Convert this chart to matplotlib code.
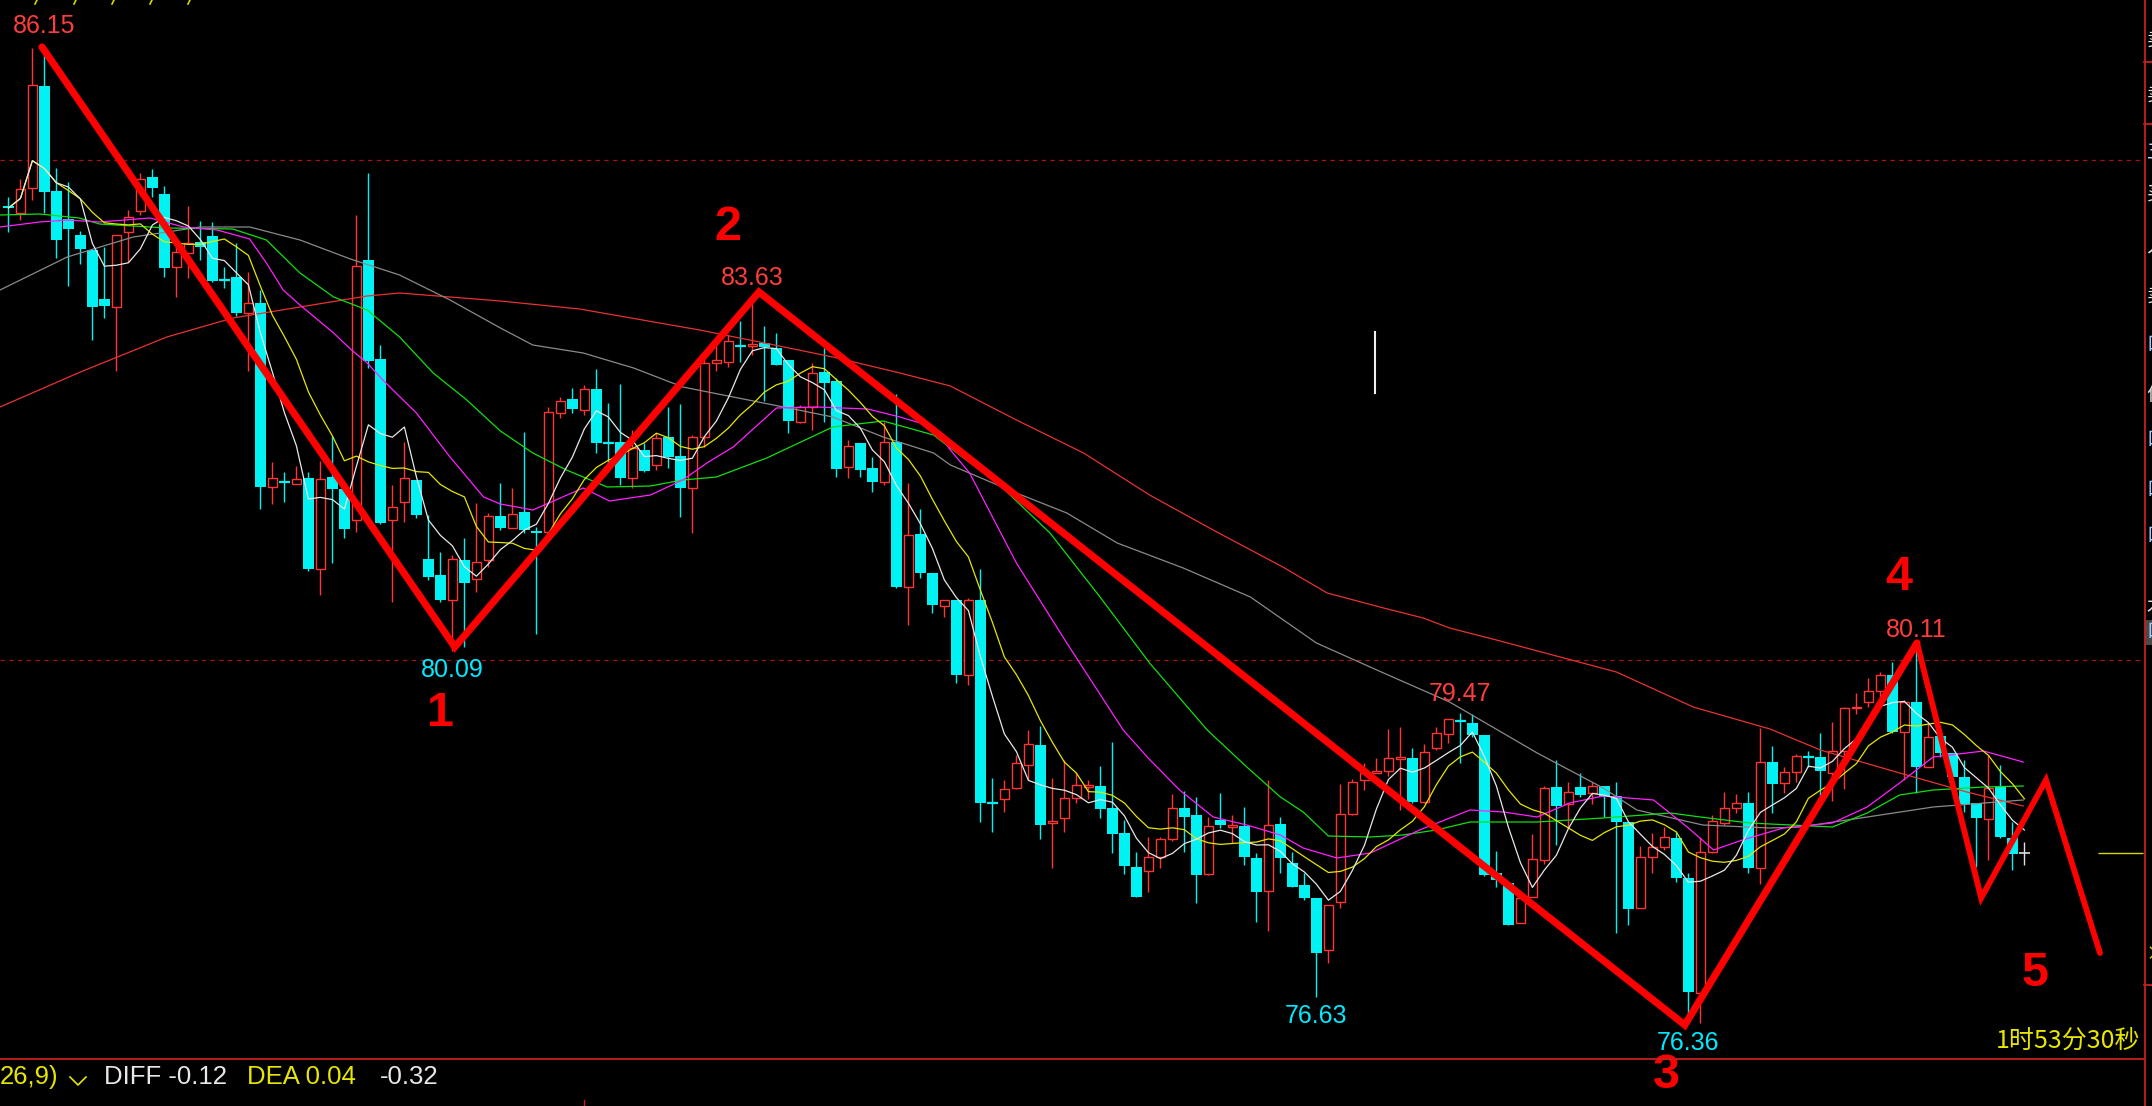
import numpy as np
import pandas as pd
import matplotlib
matplotlib.use("Agg")
import matplotlib.pyplot as plt
from matplotlib.patches import Rectangle
from matplotlib.lines import Line2D

# ---------------- data ----------------
opens = [84.54, 84.47, 84.72, 85.74, 84.69, 84.41, 84.25, 84.10, 83.61, 83.53,
         84.28, 84.49, 84.83, 84.66, 83.93, 84.07, 84.18, 84.24, 83.81, 83.83,
         83.47, 83.57, 81.73, 81.79, 81.76, 81.82, 80.91, 81.83, 81.71, 81.40,
         84.00, 83.01, 81.40, 81.58, 81.80, 81.01, 80.85, 80.60, 81.00, 80.81,
         81.00, 81.44, 81.32, 81.48, 81.29, 81.28, 82.47, 82.61, 82.50, 82.71,
         82.17, 82.18, 81.82, 82.10, 81.95, 82.23, 82.04, 81.72, 82.23, 82.97,
         82.98, 83.16, 83.14, 83.17, 83.12, 83.00, 82.38, 82.53, 82.88, 82.79,
         81.93, 82.17, 81.92, 81.78, 82.18, 80.73, 81.26, 80.87, 80.54, 80.60,
         79.85, 80.60, 78.58, 78.61, 78.72, 78.95, 79.15, 78.37, 78.42, 78.62,
         78.73, 78.74, 78.52, 78.27, 77.93, 77.89, 78.03, 78.21, 78.52, 78.45,
         77.86, 78.40, 78.33, 78.34, 78.02, 77.69, 78.36, 77.97, 77.75, 77.62,
         77.10, 77.58, 78.46, 78.80, 78.87, 78.89, 79.01, 79.02, 78.58, 79.12,
         79.26, 79.40, 79.37, 79.25, 77.87, 77.77, 77.37, 77.63, 78.00, 78.73,
         78.56, 78.73, 78.67, 78.74, 78.64, 78.38, 77.52, 78.03, 78.13, 78.22,
         77.82, 76.67, 78.08, 78.37, 78.52, 78.57, 77.92, 78.98, 78.77, 78.88,
         79.05, 79.03, 78.87, 79.09, 79.52, 79.58, 79.69, 79.85, 79.28, 79.58,
         78.93, 79.24, 79.07, 78.83, 78.57, 78.41, 78.73, 78.22, 78.07]
highs = [84.63, 84.81, 86.12, 86.15, 84.92, 84.78, 84.29, 84.10, 84.13, 84.25,
         84.50, 84.87, 84.91, 84.74, 84.20, 84.54, 84.39, 84.38, 83.93, 84.17,
         83.88, 83.70, 81.98, 81.88, 81.94, 81.88, 81.99, 82.24, 81.71, 84.45,
         84.87, 83.15, 81.75, 82.18, 81.80, 81.45, 81.08, 81.05, 81.22, 81.57,
         81.47, 81.77, 81.72, 82.28, 81.33, 82.53, 82.63, 82.72, 82.75, 82.91,
         82.57, 82.76, 82.30, 82.17, 82.27, 82.53, 82.56, 82.25, 83.03, 83.17,
         83.25, 83.39, 83.63, 83.34, 83.27, 83.00, 82.55, 82.97, 83.12, 82.82,
         82.20, 82.17, 82.03, 82.38, 82.66, 81.77, 81.51, 80.87, 80.60, 80.60,
         80.62, 80.91, 78.82, 78.80, 79.05, 79.30, 79.34, 78.82, 79.00, 78.88,
         78.80, 78.94, 79.18, 78.40, 78.08, 78.23, 78.23, 78.66, 78.69, 78.63,
         78.43, 78.67, 78.45, 78.53, 78.07, 78.80, 78.43, 78.08, 77.87, 77.62,
         77.55, 78.76, 78.81, 78.97, 79.02, 79.31, 79.33, 79.12, 79.16, 79.33,
         79.41, 79.47, 79.46, 79.25, 78.09, 77.77, 77.62, 78.26, 78.74, 79.00,
         78.78, 78.87, 78.78, 78.74, 78.78, 78.38, 78.14, 78.27, 78.33, 78.28,
         77.87, 78.23, 78.45, 78.68, 78.66, 78.68, 79.32, 79.14, 78.93, 79.06,
         79.09, 79.27, 79.38, 79.53, 79.67, 79.82, 79.88, 79.98, 79.60, 80.11,
         79.37, 79.27, 79.07, 79.00, 78.57, 79.05, 78.95, 78.38, 78.18]
lows = [84.28, 84.40, 84.60, 84.47, 84.02, 83.74, 83.96, 83.20, 83.42, 82.89,
        83.98, 84.45, 84.63, 83.83, 83.63, 83.82, 84.00, 83.78, 83.72, 83.44,
        82.89, 81.51, 81.56, 81.58, 81.76, 80.89, 80.65, 80.97, 81.22, 81.28,
        82.92, 81.36, 80.58, 81.38, 81.42, 80.80, 80.58, 80.09, 80.13, 80.68,
        80.93, 81.30, 81.32, 81.27, 80.26, 81.23, 82.42, 82.47, 82.45, 82.07,
        81.93, 81.75, 81.72, 81.88, 81.90, 81.92, 81.43, 81.27, 82.13, 82.89,
        82.93, 82.98, 83.05, 82.59, 82.95, 82.27, 82.37, 82.30, 82.38, 81.83,
        81.82, 81.83, 81.68, 81.75, 80.72, 80.35, 80.82, 80.47, 80.43, 79.77,
        79.75, 78.38, 78.28, 78.48, 78.71, 78.80, 78.21, 77.92, 78.28, 78.57,
        78.61, 78.42, 78.07, 77.86, 77.63, 77.68, 77.92, 78.19, 78.08, 77.57,
        77.85, 78.32, 78.17, 77.95, 77.38, 77.29, 77.87, 77.73, 77.60, 76.63,
        76.97, 77.52, 78.45, 78.70, 78.87, 78.84, 78.50, 78.57, 78.57, 79.10,
        79.17, 78.97, 79.23, 77.84, 77.73, 77.35, 77.37, 77.63, 77.96, 78.15,
        78.32, 78.63, 78.56, 78.43, 77.27, 77.35, 77.52, 77.87, 78.10, 77.78,
        76.36, 76.37, 78.07, 78.35, 78.47, 77.87, 77.76, 78.47, 78.67, 78.78,
        78.93, 78.64, 78.59, 78.71, 79.46, 79.53, 79.55, 79.27, 78.80, 78.67,
        78.93, 79.03, 78.82, 78.48, 77.93, 78.00, 78.22, 77.90, 77.95]
closes = [84.52, 84.71, 85.75, 84.68, 84.20, 84.31, 84.11, 83.53, 83.54, 84.25,
          84.43, 84.81, 84.72, 83.92, 84.08, 84.17, 84.13, 83.79, 83.80, 83.47,
          83.57, 81.73, 81.82, 81.78, 81.81, 80.91, 81.81, 81.71, 81.31, 83.94,
          82.99, 81.37, 81.53, 81.82, 81.45, 80.83, 80.60, 81.01, 80.77, 80.98,
          81.44, 81.32, 81.46, 81.30, 81.27, 82.48, 82.59, 82.51, 82.71, 82.17,
          82.17, 81.82, 82.12, 81.89, 82.22, 82.03, 81.72, 82.23, 82.97, 83.00,
          83.19, 83.14, 83.16, 83.13, 82.95, 82.39, 82.53, 82.87, 82.77, 81.91,
          82.14, 81.90, 81.78, 82.18, 80.73, 81.25, 80.87, 80.55, 80.60, 79.85,
          80.60, 78.57, 78.57, 78.71, 78.97, 79.16, 78.35, 78.39, 78.62, 78.75,
          78.75, 78.51, 78.26, 77.94, 77.63, 78.03, 78.21, 78.52, 78.43, 77.85,
          78.34, 78.35, 78.35, 78.03, 77.68, 78.35, 78.02, 77.73, 77.62, 77.07,
          77.55, 78.46, 78.78, 78.87, 78.89, 79.02, 79.03, 78.58, 79.08, 79.27,
          79.41, 79.39, 79.25, 77.85, 77.80, 77.35, 77.62, 78.01, 78.72, 78.54,
          78.68, 78.65, 78.74, 78.63, 78.38, 77.51, 78.03, 78.13, 78.23, 77.82,
          76.68, 78.08, 78.39, 78.52, 78.57, 77.92, 78.98, 78.76, 78.88, 79.04,
          79.03, 78.89, 79.09, 79.52, 79.53, 79.69, 79.85, 79.28, 79.58, 78.93,
          79.23, 79.07, 78.83, 78.56, 78.42, 78.72, 78.23, 78.06, 78.07]

# moving-average lines (bar index, price)
ma20_x = [-0.7, 2.6, 4.9, 7.6, 11.8, 14.6, 17.4, 20.1, 21.5, 22.9, 24.3, 27.1, 28.5, 29.9,
          31.2, 34, 36.8, 39.6, 41, 43.7, 47.9, 50.1, 53.5, 56.2, 58.2, 60.4, 64, 67.4,
          71.6, 74.3, 77.1, 78.5, 80.1, 84, 88.2, 92.9, 94.9, 97.6, 100.4, 103.2, 106,
          107.9, 110.7, 113.5, 117.6, 121.8, 124.6, 127.4, 130.1, 132.9, 137.1, 139.9,
          142.1, 144.5, 147.9, 152, 154.9, 157.6, 160.4, 164.6, 167.9]
ma20_y = [84.33, 84.38, 84.40, 84.38, 84.42, 84.33, 84.30, 84.21, 83.97, 83.70, 83.55,
          83.27, 83.11, 82.97, 82.80, 82.47, 82.03, 81.63, 81.56, 81.50, 81.72, 81.59,
          81.65, 81.80, 81.97, 82.13, 82.52, 82.53, 82.51, 82.43, 82.33, 82.10, 81.87,
          80.97, 80.17, 79.30, 79.03, 78.70, 78.43, 78.35, 78.25, 78.12, 78.02, 78.07,
          78.30, 78.50, 78.48, 78.43, 78.57, 78.64, 78.60, 78.33, 78.10, 78.20, 78.32,
          78.37, 78.53, 78.77, 79.03, 79.09, 78.98]
ma30_x = [-0.7, 2.6, 5.9, 7.6, 13.2, 18.7, 21.5, 24.3, 27.1, 29.9, 32.6, 35.4, 38.2, 41,
          43.7, 46.5, 49.9, 53.5, 56.2, 59, 63.2, 68.7, 72.9, 77.1, 78.5, 82.6, 86.8,
          90.97, 95.1, 99.9, 103.2, 106, 107.9, 110, 113.5, 116.2, 119, 121.8, 127.4,
          132.9, 138.5, 141, 145.1, 152, 154.9, 157.6, 160.4, 164.6, 167.9]
ma30_y = [84.45, 84.46, 84.42, 84.36, 84.32, 84.31, 84.20, 83.87, 83.63, 83.50, 83.23,
          82.87, 82.60, 82.29, 82.07, 81.90, 81.73, 81.74, 81.80, 81.83, 82.02, 82.33,
          82.39, 82.25, 82.12, 81.75, 81.27, 80.63, 79.97, 79.30, 78.93, 78.63, 78.48,
          78.24, 78.23, 78.25, 78.30, 78.38, 78.38, 78.42, 78.47, 78.43, 78.37, 78.33,
          78.47, 78.65, 78.70, 78.73, 78.74]
ma60_x = [-0.7, 4.9, 10.4, 16, 20.1, 24.3, 28.5, 32.6, 36.8, 41, 43.7, 47.9, 52.1, 56.2,
          60.4, 64.6, 68.7, 72.9, 77.1, 78.5, 84, 88.2, 92.4, 97.9, 103.5, 109, 114.6,
          120.1, 127.4, 132.9, 135.7, 141.2, 146.8, 149.3, 154.9, 160.4, 167.9]
ma60_y = [83.70, 84.03, 84.23, 84.33, 84.33, 84.20, 84.01, 83.85, 83.60, 83.32, 83.15,
          83.07, 82.92, 82.73, 82.63, 82.53, 82.43, 82.23, 82.07, 81.95, 81.67, 81.47,
          81.17, 80.92, 80.63, 80.17, 79.87, 79.58, 79.07, 78.72, 78.50, 78.35, 78.32,
          78.33, 78.43, 78.53, 78.60]
ma120_x = [-0.7, 6, 13.2, 18.7, 24.3, 29.9, 32.6, 41, 47.6, 57.6, 62.6, 68.7, 74.3, 78.5,
           84, 89.6, 95.1, 100.7, 106.2, 109.9, 114.6, 117.9, 120.1, 124, 134, 140.4,
           146.8, 151, 157.6, 163.2, 167.9]
ma120_y = [82.53, 82.88, 83.23, 83.42, 83.53, 83.64, 83.67, 83.59, 83.51, 83.30, 83.18,
           83.03, 82.87, 82.74, 82.40, 82.07, 81.65, 81.28, 80.93, 80.67, 80.52, 80.42,
           80.32, 80.20, 79.88, 79.53, 79.31, 79.10, 78.87, 78.68, 78.54]

# hand-drawn wave line (bar index, price)
wave_x = [2.8, 37.2, 62.55, 139.7, 159.05, 164.4, 169.8, 174.3]
wave_y = [86.13, 80.13, 83.68, 76.35, 80.17, 77.62, 78.80, 77.07]
wave_labels = ["1", "2", "3", "4", "5"]

# marked extremes: (bar index, kind)
marks = [(3, "high"), (37, "low"), (62, "high"), (121, "high"), (109, "low"),
         (140, "low"), (159, "high")]

ref_levels = [85.0, 80.0]
macd_texts = [("26,9)", "#e6e600"), ("DIFF -0.12", "#e8e8e8"), ("DEA 0.04", "#e6e600"), ("-0.32", "#e8e8e8")]
timer_text = "1时53分30秒"

# ---------------- figure ----------------
W, H = 2152, 1106
def fx(px): return px / W
def fy(py): return 1 - py / H

fig = plt.figure(figsize=(W / 100, H / 100), dpi=100, facecolor="black")
ax = fig.add_axes([0, fy(1059), fx(2144), 1059 / H])
ax.set_facecolor("black")
ax.set_xlim(-8.4 / 12, (2144 - 8.4) / 12)
ax.set_ylim(86.60 - 10.59, 86.60)
for s in ax.spines.values():
    s.set_visible(False)
ax.set_xticks([]); ax.set_yticks([])

RED = "#ff3434"
CYAN = "#00f2f2"
bw = 0.86
n = len(closes)

for lvl in ref_levels:
    ax.axhline(lvl, color="#a01414", lw=0.9, ls=(0, (3.5, 3.5)), zorder=1)

for i in range(n):
    o, h, l, c = opens[i], highs[i], lows[i], closes[i]
    lo, hi = min(o, c), max(o, c)
    if i == n - 1 and abs(c - o) < 0.015:
        ax.vlines(i, l, h, color="#e0e0e0", lw=1.0, zorder=2)
        ax.hlines(c, i - bw / 2, i + bw / 2, color="#e0e0e0", lw=1.2, zorder=2)
    elif c > o:
        ax.vlines(i, hi, h, color=RED, lw=1.0, zorder=2)
        ax.vlines(i, l, lo, color=RED, lw=1.0, zorder=2)
        ax.add_patch(Rectangle((i - bw / 2 + 0.04, lo), bw - 0.08, hi - lo, facecolor="black",
                               edgecolor=RED, lw=1.0, zorder=2))
    else:
        ax.vlines(i, l, h, color=CYAN, lw=1.0, zorder=2)
        if hi - lo < 0.02:
            ax.hlines(lo, i - bw / 2, i + bw / 2, color=CYAN, lw=1.6, zorder=2)
        else:
            ax.add_patch(Rectangle((i - bw / 2, lo), bw, hi - lo, facecolor=CYAN,
                                   edgecolor="none", lw=0, zorder=2))

idx = np.arange(n)
ma5 = pd.Series(closes).rolling(5, min_periods=1).mean()
ma10 = pd.Series(closes).rolling(10, min_periods=1).mean()
ax.plot(ma120_x, ma120_y, color="#e83232", lw=0.9, zorder=3)
ax.plot(ma60_x, ma60_y, color="#8a8a8a", lw=0.9, zorder=3)
ax.plot(ma30_x, ma30_y, color="#10e010", lw=0.9, zorder=3)
ax.plot(ma20_x, ma20_y, color="#ff20ff", lw=0.9, zorder=3)
ax.plot(idx, ma10, color="#e6e600", lw=0.9, zorder=3)
ax.plot(idx, ma5, color="#e8e8e8", lw=0.9, zorder=3)

# wave line
ax.plot(wave_x[:5], wave_y[:5], color="#ff0000", lw=5.2, solid_capstyle="round",
        solid_joinstyle="miter", zorder=5)
ax.plot(wave_x[4:], wave_y[4:], color="#ff0000", lw=4.2, solid_capstyle="round",
        solid_joinstyle="miter", zorder=5)

LAB = ["Liberation Sans", "DejaVu Sans"]
for i, kind in marks:
    if kind == "high":
        ax.annotate(f"{highs[i]:.2f}", xy=(i, highs[i]), xytext=(0, 19 * 0.72),
                    textcoords="offset points", ha="center", va="center",
                    color="#ff3c3c", fontsize=18, family=LAB, zorder=6)
    else:
        ax.annotate(f"{lows[i]:.2f}", xy=(i, lows[i]), xytext=(0, -19 * 0.72),
                    textcoords="offset points", ha="center", va="center",
                    color="#00eaff", fontsize=18, family=LAB, zorder=6)

label_offsets = [(1, (-14, -67)), (2, (-31, 65)), (3, (-18, -51)), (4, (-18, 65)), (7, (-65, -20))]
for lab, (vi, (dx, dy)) in zip(wave_labels, label_offsets):
    ax.annotate(lab, xy=(wave_x[vi], wave_y[vi]), xytext=(dx * 0.72, dy * 0.72),
                textcoords="offset points", ha="center", va="center", color="#ff0000",
                fontsize=35, fontweight="bold", family=LAB, zorder=6, annotation_clip=False)

# last-price marker at right edge
ax.hlines(closes[-1], (2098 - 8.4) / 12, (2143 - 8.4) / 12, color="#d8d800", lw=1.0, zorder=3)

# ---------------- frame / panel decorations ----------------
fig.add_artist(Line2D([0, fx(2144)], [fy(1059), fy(1059)], color="#c81e1e", lw=1.3))
fig.add_artist(Line2D([fx(2144.5), fx(2144.5)], [0, 1], color="#c81e1e", lw=1.3))
for yy in (62, 124, 985):
    fig.add_artist(Line2D([fx(2144), 1], [fy(yy), fy(yy)], color="#c81e1e", lw=1.3))
fig.add_artist(Rectangle((fx(2145), fy(645)), fx(7), 25 / H, facecolor="#4a4a4a",
                         edgecolor="none", transform=fig.transFigure))
# cursor mark
fig.add_artist(Line2D([fx(1375), fx(1375)], [fy(332), fy(393)], color="#f0f0f0", lw=1.5))
# small tick at bottom
fig.add_artist(Line2D([fx(584), fx(584)], [fy(1100), fy(1106)], color="#c81e1e", lw=1.0))
# yellow marks at top left (bottom of a cut-off legend line)
for xx in (36, 75, 113, 151, 189):
    fig.add_artist(Line2D([fx(xx + 1), fx(xx - 1)], [fy(0), fy(4)], color="#d8d800", lw=1.2))

# right side panel characters (mostly cut off, as in the original screen)
CJK = ["Noto Sans CJK SC", "DejaVu Sans"]
panel = [(40, "卖", "#e0e0e0"), (95, "卖", "#e0e0e0"), (152, "五", "#c8d8ff"),
         (194, "买", "#e0e0e0"), (247, "入", "#e0e0e0"), (296, "卖", "#e0e0e0"),
         (345, "口", "#a0c8ff"), (395, "价", "#e0e0e0"), (440, "口", "#a0c8ff"),
         (490, "口", "#a0c8ff"), (536, "口", "#a0c8ff"), (606, "木", "#e0e0e0"),
         (632, "口", "#a0c8ff")]
for yy, ch, col in panel:
    fig.text(fx(2146.5), fy(yy), ch, color=col, fontsize=14, family=CJK, ha="left", va="center")
fig.text(fx(2146), fy(955), "×", color="#d8d800", fontsize=14, family=CJK, ha="left", va="center")

# bottom indicator line
xs = [0, 104, 247, 380]
for (t, col), xx in zip(macd_texts, xs):
    fig.text(fx(xx), fy(1077), t, color=col, fontsize=18.5, family=LAB, ha="left", va="center")
fig.add_artist(Line2D([fx(70), fx(78), fx(86)], [fy(1077), fy(1085), fy(1077)],
                      color="#e6e600", lw=1.2))

fig.text(fx(2140), fy(1041), timer_text, color="#e6e600", fontsize=18, family=CJK,
         ha="right", va="center")

fig.savefig("out.png", dpi=100, facecolor="black")
